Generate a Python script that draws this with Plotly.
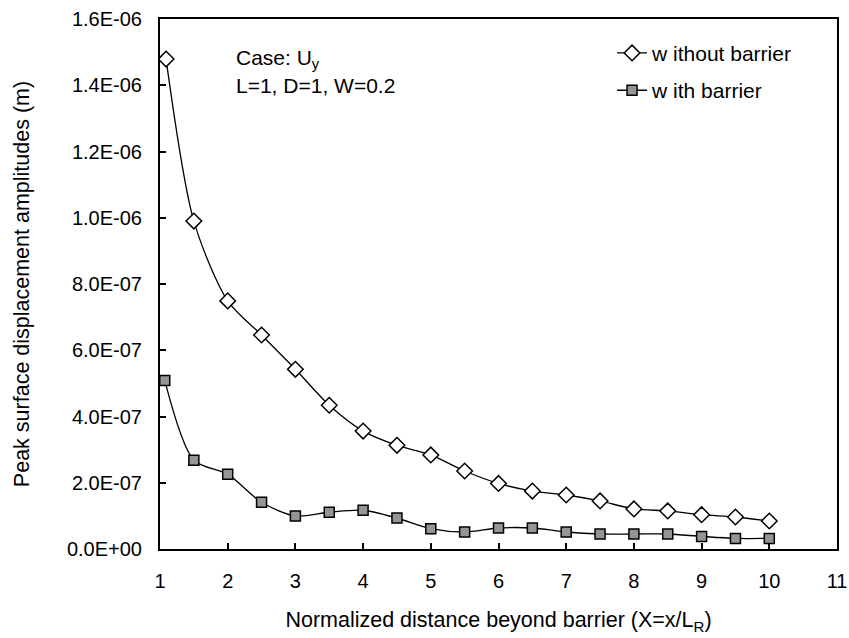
import plotly.graph_objects as go

x_without = [1.09, 1.5, 2, 2.5, 3, 3.5, 4, 4.5, 5, 5.5, 6, 6.5, 7, 7.5, 8, 8.5, 9, 9.5, 10]
y_without = [1.479e-6, 0.990e-6, 0.749e-6, 0.646e-6, 0.5425e-6, 0.434e-6, 0.356e-6, 0.313e-6,
             0.284e-6, 0.2355e-6, 0.198e-6, 0.175e-6, 0.163e-6, 0.145e-6, 0.121e-6, 0.115e-6,
             0.1036e-6, 0.0966e-6, 0.0845e-6]

x_with = [1.07, 1.5, 2, 2.5, 3, 3.5, 4, 4.5, 5, 5.5, 6, 6.5, 7, 7.5, 8, 8.5, 9, 9.5, 10]
y_with = [0.509e-6, 0.268e-6, 0.226e-6, 0.141e-6, 0.0996e-6, 0.111e-6, 0.117e-6, 0.0936e-6,
          0.0614e-6, 0.0513e-6, 0.0634e-6, 0.0634e-6, 0.0513e-6, 0.0453e-6, 0.0453e-6, 0.0453e-6,
          0.038e-6, 0.032e-6, 0.032e-6]

y_ticks = [0, 2e-7, 4e-7, 6e-7, 8e-7, 1.0e-6, 1.2e-6, 1.4e-6, 1.6e-6]
y_ticktext = [f"{v:.1E}" for v in y_ticks]
x_ticks = list(range(1, 12))

FONT = "Liberation Sans, Arial, sans-serif"
FS_TICK = 20
FS_TEXT = 21
FS_TITLE = 21.5

fig = go.Figure()
fig.add_trace(go.Scatter(
    x=x_without, y=y_without, name="w ithout barrier", mode="lines+markers",
    legendgroup="a",
    line=dict(color="black", width=1.3, shape="spline", smoothing=0.8),
    marker=dict(symbol="diamond", size=12, color="white", line=dict(color="black", width=1.5)),
))
fig.add_trace(go.Scatter(
    x=x_with, y=y_with, name="w ith barrier", mode="lines+markers",
    legendgroup="b",
    line=dict(color="black", width=1.3, shape="spline", smoothing=0.8),
    marker=dict(symbol="square", size=10, color="#959595", line=dict(color="black", width=1.5)),
))

fig.update_layout(
    width=849, height=638,
    margin=dict(l=160, r=12, t=19, b=89, autoexpand=False),
    paper_bgcolor="white", plot_bgcolor="white",
    font=dict(family=FONT, size=FS_TEXT, color="black"),
    showlegend=True,
    legend=dict(x=0.6677, y=0.974, xanchor="left", yanchor="top", bgcolor="rgba(0,0,0,0)",
                font=dict(size=FS_TEXT), traceorder="grouped", tracegroupgap=7),
    xaxis=dict(range=[1, 11], tickvals=x_ticks, ticks="inside", ticklen=6, tickwidth=1.5,
               tickcolor="black", showline=True, linecolor="black", linewidth=2, mirror=True,
               showgrid=False, zeroline=False, tickfont=dict(size=FS_TICK), automargin=False,
               ticklabelstandoff=13,
               title=dict(text="Normalized distance beyond barrier (X=x/L<sub>R</sub>)",
                          font=dict(size=FS_TITLE), standoff=21)),
    yaxis=dict(range=[0, 1.6e-6], tickvals=y_ticks, ticktext=y_ticktext, ticks="inside",
               ticklen=6, tickwidth=1.5, tickcolor="black", showline=True, linecolor="black",
               linewidth=2, mirror=True, showgrid=False, zeroline=False,
               tickfont=dict(size=FS_TICK), automargin=False, ticklabelstandoff=12,
               title=dict(text="Peak surface displacement amplitudes (m)",
                          font=dict(size=FS_TITLE), standoff=31)),
)

fig.add_annotation(x=0.109, y=0.925, xref="paper", yref="paper", xanchor="left",
                   yanchor="middle", text="Case: U<sub>y</sub>", showarrow=False,
                   align="left", font=dict(size=FS_TEXT))
fig.add_annotation(x=0.109, y=0.8736, xref="paper", yref="paper", xanchor="left",
                   yanchor="middle", text="L=1, D=1, W=0.2", showarrow=False,
                   align="left", font=dict(size=FS_TEXT))

fig.write_html("out.html", config={"displayModeBar": False},
               post_script="document.body.style.margin='0';")
